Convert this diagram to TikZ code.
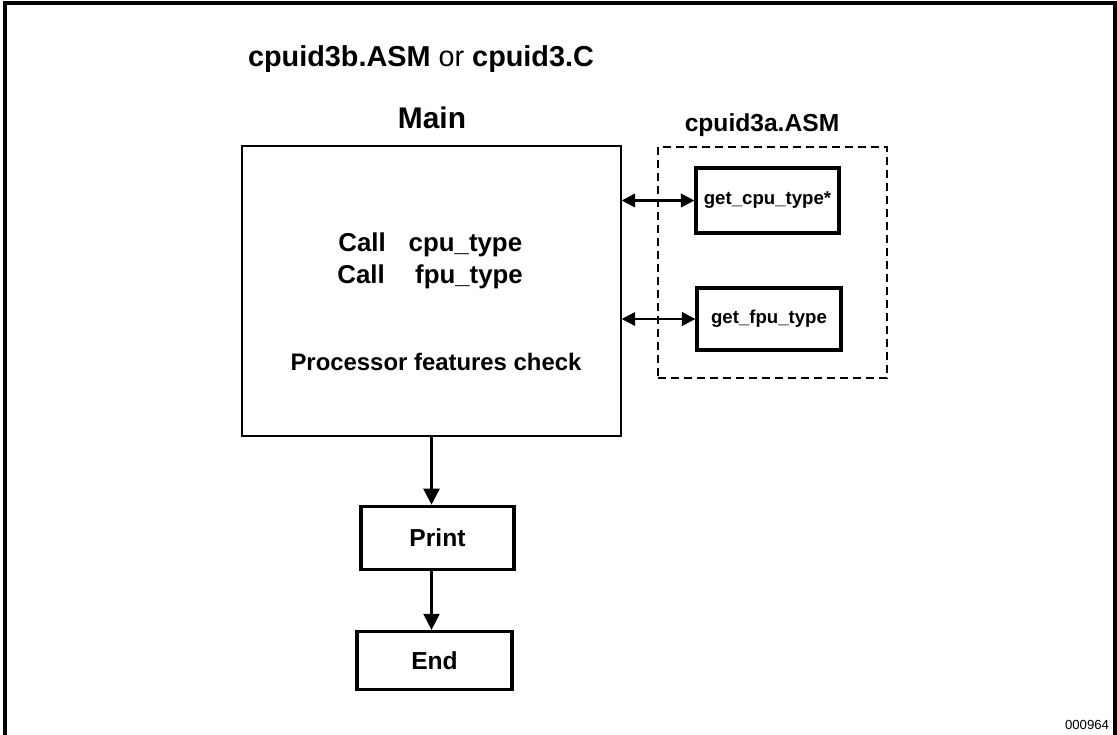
\documentclass[tikz,border=0pt]{standalone}
\usepackage{fontspec}
\setmainfont{Liberation Sans}
\usetikzlibrary{arrows.meta,positioning}
\tikzset{
    mainblock/.style={draw, line width=0.8pt, minimum width=7.58cm, minimum height=5.8cm, inner sep=0pt},
    stepblock/.style={draw, line width=1.8pt, align=center, font=\bfseries\fontsize{14}{17}\selectfont, inner sep=0pt},
    procblock/.style={draw, line width=1.8pt, align=center, font=\bfseries\fontsize{10.6}{12}\selectfont, inner sep=0pt},
    groupblock/.style={draw, dash pattern=on 0.16cm off 0.1cm, line width=1.3pt, minimum width=4.58cm, minimum height=4.62cm, inner sep=0pt},
    flowarrow/.style={-{Triangle[length=0.32cm, width=0.32cm]}, line width=1.3pt},
    callarrow/.style={{Triangle[length=0.27cm, width=0.27cm]}-{Triangle[length=0.27cm, width=0.27cm]}, line width=1.3pt},
    diagramlabel/.style={font=\bfseries\fontsize{14}{17}\selectfont, anchor=base, inner sep=0pt}
}
\begin{document}
\begin{tikzpicture}[node distance=1.2cm]
        \useasboundingbox (0,0) rectangle (22.34,14.68);
        % page frame, open at the bottom
        \draw[line width=2.2pt] (0.1,-0.3) -- (0.1,14.62) -- (22.3,14.62) -- (22.3,-0.3);
        \node[diagramlabel, font=\bfseries\fontsize{16.4}{19}\selectfont] (title) at (8.42,13.35) {cpuid3b.ASM {\mdseries or} cpuid3.C};
        \node[diagramlabel, font=\bfseries\fontsize{17}{20}\selectfont] (mainlabel) at (8.64,12.11) {Main};
        \node[mainblock] (main) at (8.63,8.86) {};
        \node[diagramlabel, anchor=base west, font=\bfseries\fontsize{14.7}{17}\selectfont] (callcpu) at (6.76,9.66) {Call\hspace{0.46cm}cpu\_type};
        \node[diagramlabel, anchor=base west, font=\bfseries\fontsize{14.7}{17}\selectfont] (callfpu) at (6.74,9.02) {Call\hspace{0.61cm}fpu\_type};
        \node[diagramlabel, font=\bfseries\fontsize{13.6}{16}\selectfont] (check) at (8.72,7.28) {Processor features check};
        \node[stepblock, minimum width=3.06cm, minimum height=1.26cm, below=1.36cm of main, xshift=0.12cm] (print) {Print};
        \node[stepblock, minimum width=3.1cm, minimum height=1.16cm, below=1.18cm of print, xshift=-0.06cm] (end) {End};
        \node[groupblock] (asm) at (15.45,9.43) {};
        \node[diagramlabel] (asmlabel) at (15.24,12.05) {cpuid3a.ASM};
        \node[procblock, minimum width=2.86cm, minimum height=1.3cm] (getcpu) at (15.35,10.67) {get\_cpu\_type*};
        \node[procblock, minimum width=2.88cm, minimum height=1.24cm] (getfpu) at (15.38,8.3) {get\_fpu\_type};
        \node[font=\fontsize{7.5}{9}\selectfont, anchor=base, inner sep=0pt] (fignum) at (21.74,0.1) {000964};
        \draw[callarrow] (main.east |- getcpu.west) -- (getcpu.west);
        \draw[callarrow] (main.east |- getfpu.west) -- (getfpu.west);
        \draw[flowarrow] (main.south) -- (main.south |- print.north);
        \draw[flowarrow] (print.south -| main.south) -- (main.south |- end.north);
    \end{tikzpicture}
\end{document}
